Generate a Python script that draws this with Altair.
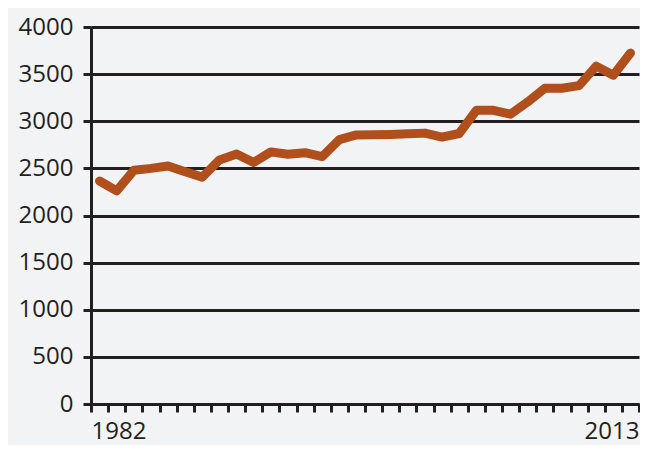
import altair as alt
import pandas as pd

years = [1982, 1983, 1984, 1985, 1986, 1987, 1988, 1989, 1990, 1991, 1992,
         1993, 1994, 1995, 1996, 1997, 1998, 1999, 2000, 2001, 2002, 2003,
         2004, 2005, 2006, 2007, 2008, 2009, 2010, 2011, 2012, 2013]
values = [2366, 2262, 2480, 2500, 2525, 2465, 2407, 2590, 2653, 2563, 2675,
          2650, 2666, 2625, 2805, 2855, 2857, 2860, 2867, 2874, 2832, 2870,
          3116, 3116, 3075, 3205, 3350, 3350, 3378, 3585, 3489, 3723]
y_ticks = [0, 500, 1000, 1500, 2000, 2500, 3000, 3500, 4000]
x_ticks = [y - 0.5 for y in years] + [years[-1] + 0.5]

df = pd.DataFrame({"year": years, "value": values})

ink = "#231f20"
font = "Open Sans"

chart = alt.Chart(df).mark_line(
    color="#b04f1b", strokeWidth=9, strokeCap="round", strokeJoin="round"
).encode(
    x=alt.X("year:Q",
            scale=alt.Scale(domain=[1981.5, 2013.5], nice=False, zero=False),
            axis=alt.Axis(values=x_ticks, title=None, grid=False,
                          labelExpr="datum.value == 1981.5 ? '1982' : (datum.value == 2013.5 ? '2013' : '')",
                          labelFlush=True, labelOverlap=False,
                          labelFont=font, labelFontSize=24, labelColor=ink,
                          labelPadding=7, tickSize=8, tickWidth=3, tickColor=ink,
                          domainColor=ink, domainWidth=3)),
    y=alt.Y("value:Q",
            scale=alt.Scale(domain=[0, 4000], nice=False),
            axis=alt.Axis(values=y_ticks, title=None, grid=True, format="d",
                          gridColor=ink, gridWidth=3, gridOpacity=1,
                          labelFont=font, labelFontSize=24, labelColor=ink,
                          labelPadding=10, tickSize=8, tickWidth=3, tickColor=ink,
                          domainColor=ink, domainWidth=3)),
).properties(
    width=548, height=377,
    autosize=alt.AutoSizeParams(type="none"),
    padding={"left": 83, "top": 19, "right": 1, "bottom": 41},
    background="#f2f3f5",
).configure_view(stroke=None)

chart.save("out.html", embed_options={"renderer": "svg", "actions": False})
